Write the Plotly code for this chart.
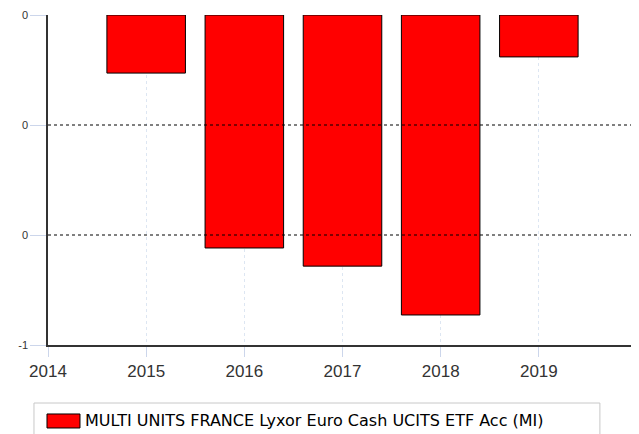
import plotly.graph_objects as go

years = [2015, 2016, 2017, 2018, 2019]
values = [-0.176, -0.706, -0.761, -0.909, -0.127]
series_name = "MULTI UNITS FRANCE Lyxor Euro Cash UCITS ETF Acc (MI)"
x_ticks = [2014, 2015, 2016, 2017, 2018, 2019]
y_ticks = [0, -1/3, -2/3, -1]
y_tick_labels = ["0", "0", "0", "-1"]

fig = go.Figure()
fig.add_trace(go.Bar(
    x=years, y=values, base=0, width=0.8, name=series_name,
    marker=dict(color="#ff0000", line=dict(color="#000000", width=1)),
    showlegend=False,
))

# dotted horizontal gridlines at interior ticks
for v in y_ticks[1:-1]:
    fig.add_shape(type="line", xref="paper", x0=0, x1=1, yref="y", y0=v, y1=v,
                  line=dict(color="#000000", width=1, dash="dot"), layer="above")

# legend box drawn manually
fig.add_shape(type="rect", xref="paper", yref="paper",
              x0=-0.0238, x1=0.937, y0=-0.1758, y1=-0.32,
              line=dict(color="#c8c8c8", width=1), fillcolor="white")
fig.add_shape(type="rect", xref="paper", yref="paper",
              x0=-0.0017, x1=0.0543, y0=-0.209, y1=-0.2515,
              line=dict(color="#000000", width=1), fillcolor="#ff0000")
fig.add_annotation(xref="paper", yref="paper", x=0.0600, y=-0.230,
                   text=series_name, showarrow=False, xanchor="left", yanchor="middle",
                   font=dict(family="DejaVu Sans", size=16, color="#000000"))

# page body has an 8px default margin; size the figure so the plot lands where the reference has it
fig.update_layout(
    width=631, height=426,
    margin=dict(l=40, r=2, t=7, b=89, autoexpand=False),
    paper_bgcolor="white", plot_bgcolor="white",
    font=dict(family="Liberation Sans, Arial", color="#333333"),
    xaxis=dict(range=[2014, 2020], tickvals=x_ticks, ticktext=[str(t) for t in x_ticks],
               showgrid=True, gridcolor="#dde6f2", griddash="dot", gridwidth=1,
               showline=True, linecolor="#333333", linewidth=1.5,
               ticks="outside", ticklen=10, tickcolor="#ccd6eb",
               tickfont=dict(size=17, color="#333333"), zeroline=False, automargin=False),
    yaxis=dict(range=[-1, 0], tickvals=y_ticks, ticktext=y_tick_labels,
               showgrid=False, showline=True, linecolor="#333333", linewidth=1.5,
               ticks="outside", ticklen=16, tickcolor="#ccd6eb",
               tickfont=dict(size=11, color="#333333"), zeroline=False, automargin=False),
)

fig.write_html("out.html")
